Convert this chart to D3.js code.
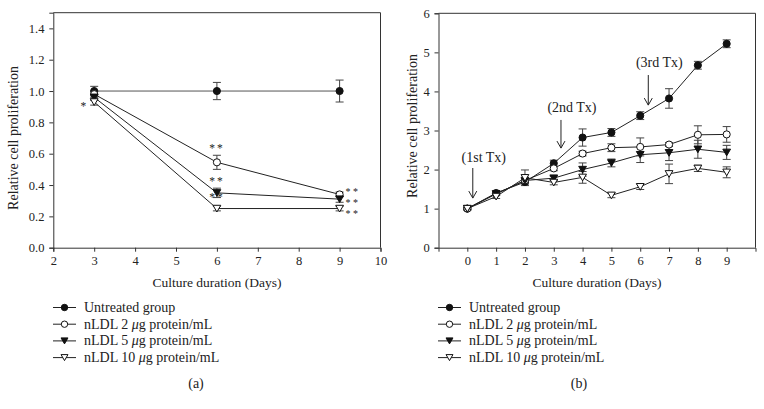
<!DOCTYPE html>
<html><head><meta charset="utf-8">
<script src="https://cdn.jsdelivr.net/npm/d3@7"></script>
<style>
body{margin:0;background:#fff;}
text{font-family:"Liberation Serif","Times New Roman",serif;fill:#222;}
</style></head>
<body><svg id="c" width="764" height="409"></svg>
<script>
// ---- data ----
const seriesNames = ["Untreated group", "nLDL 2 μg protein/mL", "nLDL 5 μg protein/mL", "nLDL 10 μg protein/mL"];
const aDays = [3, 6, 9];
const aUntreated = [1.0, 1.0, 1.0];
const aUntreatedErr = [0.03, 0.055, 0.07];
const a2 = [0.98, 0.545, 0.34];
const a2Err = [0.02, 0.045, 0.015];
const a5 = [0.96, 0.35, 0.31];
const a5Err = [0.02, 0.03, 0.02];
const a10 = [0.93, 0.25, 0.25];
const a10Err = [0.02, 0.015, 0.015];
const aXTicks = [2, 3, 4, 5, 6, 7, 8, 9, 10];
const aYTicks = [0, 0.2, 0.4, 0.6, 0.8, 1.0, 1.2, 1.4];

const bDays = [0, 1, 2, 3, 4, 5, 6, 7, 8, 9];
const bUntreated = [1.0, 1.4, 1.68, 2.16, 2.82, 2.95, 3.38, 3.82, 4.67, 5.22];
const bUntreatedErr = [0.03, 0.04, 0.05, 0.08, 0.22, 0.1, 0.1, 0.25, 0.1, 0.1];
const b2 = [1.0, 1.38, 1.72, 2.03, 2.41, 2.56, 2.58, 2.64, 2.89, 2.9];
const b2Err = [0.03, 0.04, 0.05, 0.06, 0.06, 0.1, 0.23, 0.05, 0.23, 0.2];
const b5 = [1.0, 1.38, 1.72, 1.78, 2.0, 2.17, 2.38, 2.43, 2.52, 2.44];
const b5Err = [0.03, 0.04, 0.05, 0.05, 0.17, 0.1, 0.2, 0.2, 0.23, 0.18];
const b10 = [1.0, 1.31, 1.79, 1.67, 1.80, 1.34, 1.56, 1.89, 2.03, 1.93];
const b10Err = [0.03, 0.05, 0.2, 0.06, 0.15, 0.06, 0.07, 0.25, 0.08, 0.14];
const bXTicks = [0, 1, 2, 3, 4, 5, 6, 7, 8, 9];
const bYTicks = [0, 1, 2, 3, 4, 5, 6];

const txLabels = ["(1st Tx)", "(2nd Tx)", "(3rd Tx)"];
const txDay = [0.19, 3.25, 6.28];
const txLabelY = [2.32, 3.58, 4.73];
const txArrowTop = [2.04, 3.27, 4.42];
const txArrowBottom = [1.27, 2.55, 3.65];

// significance marks (panel a)
const aSigDay = [3, 6, 6, 6];
const aSigText = ["*", "**", "**", "**"];
const aSigSeries = [3, 1, 2, 3];
const aSigDay9Series = [1, 2, 3];
const aSigDay9Text = ["**", "**", "**"];

// ---- drawing ----
const svg = d3.select("#c");
const symbols = [
  {type: d3.symbolCircle, size: 40, fill: "#111", rot: 0},
  {type: d3.symbolCircle, size: 40, fill: "#fff", rot: 0},
  {type: d3.symbolTriangle, size: 26, fill: "#111", rot: 180},
  {type: d3.symbolTriangle, size: 26, fill: "#fff", rot: 180}
];

function panel(cfg) {
  const g = svg.append("g");
  const x = d3.scaleLinear().domain(cfg.xDomain).range(cfg.xRange);
  const y = d3.scaleLinear().domain(cfg.yDomain).range(cfg.yRange);
  g.append("path").attr("d", `M${cfg.xRange[0]},${cfg.yRange[1]}H${cfg.xRange[1]}V${cfg.yRange[0]}`)
    .attr("fill", "none").attr("stroke", "#333").attr("stroke-width", 1);
  const xa = g.append("g").attr("transform", `translate(0,${cfg.yRange[0]})`)
    .call(d3.axisBottom(x).tickValues(cfg.xTicks).tickSize(4).tickFormat(d3.format("d")));
  const ya = g.append("g").attr("transform", `translate(${cfg.xRange[0]},0)`)
    .call(d3.axisLeft(y).tickValues(cfg.yTicks).tickSize(4).tickFormat(cfg.yFormat));
  [xa, ya].forEach(a => {
    a.select(".domain").attr("stroke", "#333");
    a.selectAll(".tick line").attr("stroke", "#333");
    a.selectAll("text").style("font-family", '"Liberation Serif",serif').style("font-size", "12.5px").attr("fill", "#222");
  });
  xa.selectAll("text").attr("dy", "0.85em");
  ya.selectAll("text").attr("dx", "-0.15em");
  g.append("text").attr("x", (cfg.xRange[0] + cfg.xRange[1]) / 2 + cfg.xTitleDx).attr("y", 287)
    .attr("text-anchor", "middle").style("font-size", "13.5px").text("Culture duration (Days)");
  g.append("text").attr("transform", `translate(${cfg.yTitleX},${cfg.yTitleY}) rotate(-90)`)
    .attr("text-anchor", "middle").style("font-size", "14px").text("Relative cell proliferation");

  const line = d3.line().x(d => x(d[0])).y(d => y(d[1]));
  const data = cfg.series;
  data.forEach((s, i) => {
    g.append("path").datum(cfg.days.map((d, k) => [d, s.v[k]])).attr("d", line)
      .attr("fill", "none").attr("stroke", i === 0 && cfg.grayFirst ? "#555" : "#222").attr("stroke-width", 1);
  });
  data.forEach((s, i) => {
    const eb = g.append("g").attr("stroke", "#444").attr("stroke-width", 1);
    cfg.days.forEach((d, k) => {
      const cx = x(d), t = y(s.v[k] + s.e[k]), b = y(s.v[k] - s.e[k]);
      eb.append("path").attr("d", `M${cx},${t}V${b}M${cx - 4},${t}H${cx + 4}M${cx - 4},${b}H${cx + 4}`);
    });
  });
  data.forEach((s, i) => {
    const sym = symbols[i];
    g.selectAll(null).data(cfg.days.map((d, k) => [d, s.v[k]])).enter().append("path")
      .attr("d", d3.symbol().type(sym.type).size(sym.size))
      .attr("transform", d => `translate(${x(d[0])},${y(d[1]) + (sym.rot ? -1 : 0)}) rotate(${sym.rot})`)
      .attr("fill", sym.fill).attr("stroke", "#111").attr("stroke-width", 1);
  });
  const lg = g.append("g");
  seriesNames.forEach((n, i) => {
    const ly = 307.5 + i * 16.7;
    const lx0 = cfg.legendX;
    lg.append("line").attr("x1", lx0).attr("x2", lx0 + 23).attr("y1", ly).attr("y2", ly)
      .attr("stroke", "#222").attr("stroke-width", 1);
    const sym = symbols[i];
    lg.append("path").attr("d", d3.symbol().type(sym.type).size(sym.size * 0.8))
      .attr("transform", `translate(${lx0 + 11.5},${ly + (sym.rot ? -1 : 0)}) rotate(${sym.rot})`)
      .attr("fill", sym.fill).attr("stroke", "#111");
    const t = lg.append("text").attr("x", lx0 + 31).attr("y", ly + 4.5).style("font-size", "14px");
    const parts = n.split("μ");
    if (parts.length === 2) {
      t.append("tspan").text(parts[0]);
      t.append("tspan").style("font-style", "italic").text("μ");
      t.append("tspan").text(parts[1]);
    } else t.text(n);
  });
  g.append("text").attr("x", cfg.labelX).attr("y", 388).attr("text-anchor", "middle")
    .style("font-size", "14px").text(cfg.label);
  return {g, x, y};
}

const A = panel({
  xDomain: [2, 10], xRange: [53.3, 380.5], yDomain: [0, 1.5], yRange: [247.7, 12.7],
  xTicks: aXTicks, yTicks: aYTicks, yFormat: d3.format(".1f"), days: aDays, grayFirst: true,
  series: [{v: aUntreated, e: aUntreatedErr}, {v: a2, e: a2Err}, {v: a5, e: a5Err}, {v: a10, e: a10Err}],
  xTitleDx: 0, yTitleX: 18, yTitleY: 138, legendX: 53, labelX: 196, label: "(a)"
});
const aVals = [aUntreated, a2, a5, a10];
aSigDay.forEach((d, i) => {
  const si = aSigSeries[i];
  const v = aVals[si][aDays.indexOf(d)];
  let px = A.x(d), py = A.y(v), anchor = "middle";
  if (d === 3) { px -= 6; py += 7.5; anchor = "end"; }
  else { py -= (si === 1 ? 10 : 8); }
  A.g.append("text").attr("x", px).attr("y", py).attr("text-anchor", anchor)
    .style("font-size", "11.5px").style("letter-spacing", "2px").attr("fill", "#555").text(aSigText[i]);
});
// day-9 marks, stacked beside the points (spread slightly so they do not collide)
const mid9 = A.y(aVals[2][aDays.indexOf(9)]) + 6.8;
aSigDay9Series.forEach((si, k) => {
  A.g.append("text").attr("x", A.x(9) + 6).attr("y", mid9 + (k - 1) * 11.3)
    .style("font-size", "10px").style("letter-spacing", "2.5px").attr("fill", "#555").text(aSigDay9Text[k]);
});

const B = panel({
  xDomain: [-1, 10], xRange: [438.5, 755.5], yDomain: [0, 6], yRange: [247.7, 13.3],
  xTicks: bXTicks, yTicks: bYTicks, yFormat: d3.format("d"), days: bDays, grayFirst: false,
  series: [{v: bUntreated, e: bUntreatedErr}, {v: b2, e: b2Err}, {v: b5, e: b5Err}, {v: b10, e: b10Err}],
  xTitleDx: 0, yTitleX: 417, yTitleY: 126, legendX: 438, labelX: 579, label: "(b)"
});
txLabels.forEach((t, i) => {
  const ax = B.x(txDay[i]);
  B.g.append("text").attr("x", B.x(txDay[i]) + 11).attr("y", B.y(txLabelY[i]) + 4.5)
    .attr("text-anchor", "middle").style("font-size", "14px").text(t);
  const y1 = B.y(txArrowTop[i]), y2 = B.y(txArrowBottom[i]);
  B.g.append("path").attr("d", `M${ax},${y1}V${y2}M${ax - 4},${y2 - 7}L${ax},${y2}L${ax + 4},${y2 - 7}`)
    .attr("fill", "none").attr("stroke", "#222").attr("stroke-width", 1);
});
</script></body></html>
